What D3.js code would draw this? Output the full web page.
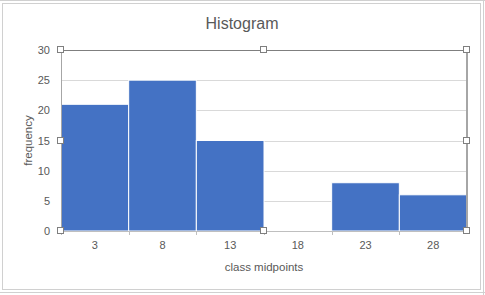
<!DOCTYPE html>
<html>
<head>
<meta charset="utf-8">
<script src="https://cdn.jsdelivr.net/npm/d3@7"></script>
<style>
  body { margin: 0; background: #fff; }
  svg { display: block; }
  text { font-family: "Liberation Sans", Arial, sans-serif; fill: #595959; }
</style>
</head>
<body>
<svg id="chart"></svg>
<script>
const midpoints = ["3", "8", "13", "18", "23", "28"];
const frequency = [21, 25, 15, 0, 8, 6];
const yTicks = [0, 5, 10, 15, 20, 25, 30];

const width = 485, height = 295;
const margin = { top: 50, right: 18, bottom: 64, left: 61 };

const svg = d3.select("#chart")
  .attr("width", width)
  .attr("height", height);

// spreadsheet lines behind the chart
svg.append("line").attr("x1", 0).attr("x2", width).attr("y1", 0.5).attr("y2", 0.5)
  .attr("stroke", "#d0d0d0");
svg.append("line").attr("x1", 0).attr("x2", width).attr("y1", 292.5).attr("y2", 292.5)
  .attr("stroke", "#d0d0d0");
svg.append("line").attr("x1", 483.5).attr("x2", 483.5).attr("y1", 0).attr("y2", height)
  .attr("stroke", "#d0d0d0");

// chart area frame
svg.append("rect")
  .attr("x", 2.5).attr("y", 3.5)
  .attr("width", 478).attr("height", 286)
  .attr("fill", "#fff")
  .attr("stroke", "#d0d0d0");

const x = d3.scaleBand()
  .domain(midpoints)
  .range([margin.left, width - margin.right])
  .paddingInner(0)
  .paddingOuter(0);

const y = d3.scaleLinear()
  .domain([0, 30])
  .range([height - margin.bottom, margin.top]);

// gridlines
svg.append("g")
  .selectAll("line")
  .data(yTicks.filter(d => d > 0 && d < 30))
  .join("line")
  .attr("x1", margin.left).attr("x2", width - margin.right)
  .attr("y1", d => Math.round(y(d)) + 0.5).attr("y2", d => Math.round(y(d)) + 0.5)
  .attr("stroke", "#d9d9d9");

// bars
svg.append("g")
  .selectAll("rect")
  .data(midpoints.map((m, i) => ({ m, v: frequency[i] })))
  .join("rect")
  .attr("x", d => x(d.m))
  .attr("width", x.bandwidth())
  .attr("y", d => y(d.v))
  .attr("height", d => y(0) - y(d.v))
  .attr("fill", "#4472c4")
  .attr("stroke", "#fff")
  .attr("stroke-width", 1);

// x axis
const xAxis = d3.axisBottom(x).tickSize(0).tickPadding(10);
const gX = svg.append("g")
  .attr("transform", `translate(0,${y(0)})`)
  .call(xAxis);
gX.select(".domain").remove();
gX.selectAll("text").style("font-size", "11px").attr("fill", "#595959");

// tick marks between classes
svg.append("g")
  .selectAll("line")
  .data(midpoints)
  .join("line")
  .attr("x1", d => Math.round(x(d)) + 0.5).attr("x2", d => Math.round(x(d)) + 0.5)
  .attr("y1", y(0)).attr("y2", y(0) + 4)
  .attr("stroke", "#bfbfbf");

svg.append("line")
  .attr("x1", margin.left).attr("x2", width - margin.right)
  .attr("y1", y(0) + 0.5).attr("y2", y(0) + 0.5)
  .attr("stroke", "#bfbfbf");

// y axis labels
const yAxis = d3.axisLeft(y).tickValues(yTicks).tickSize(0).tickPadding(11);
const gY = svg.append("g")
  .attr("transform", `translate(${margin.left},0)`)
  .call(yAxis);
gY.select(".domain").remove();
gY.selectAll("text").style("font-size", "11px").attr("fill", "#595959");

// plot area selection outline
const x0 = margin.left, x1 = width - margin.right, y0 = margin.top, y1 = y(0);
svg.append("line").attr("x1", x0).attr("x2", x1).attr("y1", y0 + 0.5).attr("y2", y0 + 0.5)
  .attr("stroke", "#7f7f7f");
svg.append("line").attr("x1", x0 + 0.5).attr("x2", x0 + 0.5).attr("y1", y0).attr("y2", y1)
  .attr("stroke", "#a6a6a6");
svg.append("line").attr("x1", x1).attr("x2", x1).attr("y1", y0).attr("y2", y1)
  .attr("stroke", "#a6a6a6").attr("stroke-width", 2);

const handles = [
  [x0, y0], [(x0 + x1) / 2, y0], [x1, y0],
  [x0, (y0 + y1) / 2], [x1, (y0 + y1) / 2],
  [x0, y1], [(x0 + x1) / 2, y1], [x1, y1]
];
svg.append("g")
  .selectAll("rect")
  .data(handles)
  .join("rect")
  .attr("x", d => Math.round(d[0]) - 3.5)
  .attr("y", d => Math.round(d[1]) - 3.5)
  .attr("width", 6).attr("height", 6)
  .attr("fill", "#fff")
  .attr("stroke", "#7f7f7f");

// titles
svg.append("text")
  .attr("x", 242).attr("y", 29)
  .attr("text-anchor", "middle")
  .style("font-size", "16px")
  .text("Histogram");

svg.append("text")
  .attr("x", (x0 + x1) / 2).attr("y", 271)
  .attr("text-anchor", "middle")
  .style("font-size", "11.5px")
  .text("class midpoints");

svg.append("text")
  .attr("transform", `translate(32,${(y0 + y1) / 2}) rotate(-90)`)
  .attr("text-anchor", "middle")
  .style("font-size", "11.5px")
  .text("frequency");
</script>
</body>
</html>
